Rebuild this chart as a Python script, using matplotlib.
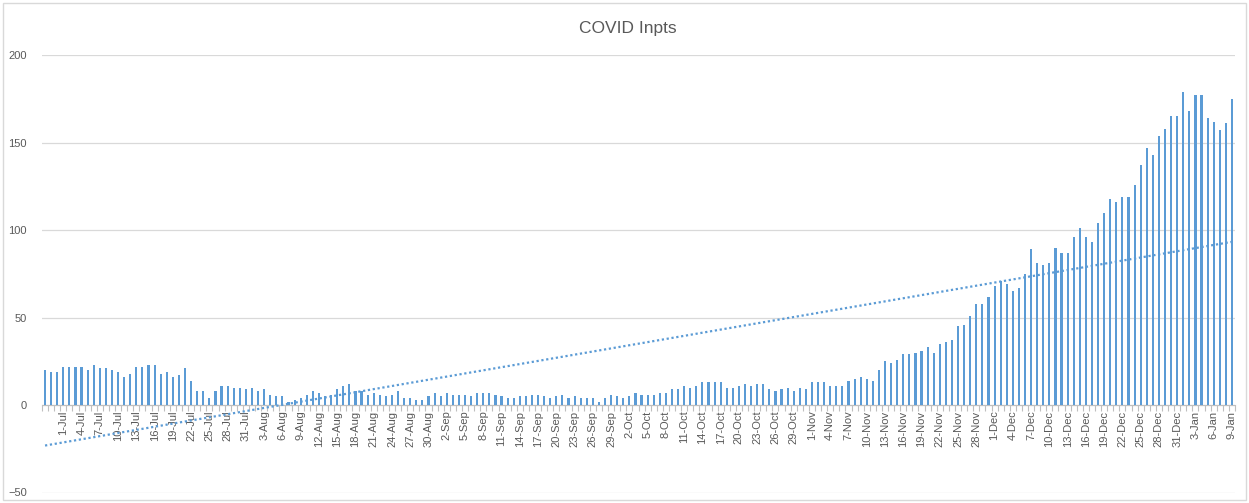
import numpy as np
import pandas as pd
import matplotlib
matplotlib.use("Agg")
import matplotlib.pyplot as plt
from matplotlib.patches import Rectangle

# daily COVID inpatients, 28-Jun to 9-Jan
dates = pd.date_range("2020-06-28", "2021-01-09", freq="D")
inpts = [20, 19, 19, 22, 22, 22, 22, 20, 23, 21, 21, 20, 19, 16, 18, 22, 22, 23, 23, 18,
         19, 16, 17, 21, 14, 8, 8, 4, 8,
         11, 11, 10, 10, 9, 10, 8, 9, 6, 5, 5, 2, 3, 4, 6, 8, 7, 5, 6, 9, 11, 12, 8, 8, 6,
         7, 6, 5, 6, 8, 4, 4, 3,
         3, 5, 7, 5, 7, 6, 6, 6, 5, 7, 7, 7, 6, 5, 4, 4, 5, 5, 6, 6, 5, 4, 5, 6, 4, 5, 4,
         4, 4, 2, 4, 6, 5,
         4, 5, 7, 6, 6, 6, 7, 7, 9, 9, 11, 10, 11, 13, 13, 13, 13, 10, 10, 11, 12, 11, 12,
         12, 9, 8, 9, 10, 8, 10, 9, 13, 13,
         13, 11, 11, 11, 14, 15, 16, 15, 14, 20, 25, 24, 26, 29, 29, 30, 31, 33, 30, 35,
         36, 37, 45, 46, 51, 58, 58, 62, 68,
         71, 69, 65, 67, 75, 89, 81, 80, 81, 90, 87, 87, 96, 101, 96, 93, 104, 110, 118,
         116, 119, 119, 126, 137, 147, 143, 154, 158, 165, 165, 179, 168, 177, 177, 164,
         162, 157, 161, 175]
labels = [f"{d.day}-{d.strftime('%b')}" for d in dates]

blue = "#5B9BD5"
grey_txt = "#595959"
grid_c = "#D9D9D9"

plt.rcParams["font.family"] = ["Liberation Sans", "DejaVu Sans"]

fig = plt.figure(figsize=(12.49, 5.03), dpi=100)
ax = fig.add_axes([42 / 1249, 1 - 492.5 / 503, 1193 / 1249, 437.5 / 503])

x = np.arange(len(inpts))
ax.bar(x, inpts, width=0.35, color=blue, zorder=3)

# linear trendline (dotted)
k, c = np.polyfit(x, inpts, 1)
ax.plot(x, k * x + c, color=blue, linestyle=(0, (1, 1.2)), linewidth=1.6, zorder=4)

ax.set_xlim(-0.5, len(inpts) - 0.5)
ax.set_ylim(-50, 200)
ax.set_yticks(range(-50, 201, 50))
ax.yaxis.grid(True, color=grid_c, linewidth=0.9, zorder=0)
ax.set_axisbelow(True)

for s in ["left", "right", "top"]:
    ax.spines[s].set_visible(False)
ax.spines["bottom"].set_position(("data", 0))
ax.spines["bottom"].set_color("#BFBFBF")
ax.spines["bottom"].set_zorder(2)

ax.set_xticks(x[3::3])
ax.set_xticklabels(labels[3::3], rotation=90, fontsize=8, color=grey_txt)
ax.set_xticks(np.arange(-0.5, len(inpts), 1), minor=True)
ax.tick_params(axis="x", which="major", length=0, pad=4)
ax.tick_params(axis="x", which="minor", length=4, color="#BFBFBF", width=0.8)
ax.tick_params(axis="y", length=0, labelsize=8, labelcolor=grey_txt, pad=11)

fig.text(628 / 1249, 1 - 28 / 503, "COVID Inpts", ha="center", va="center",
         fontsize=12.5, color=grey_txt)

fig.patches.append(Rectangle((3 / 1249, 3 / 503), 1243 / 1249, 497 / 503,
                             transform=fig.transFigure, fill=False,
                             edgecolor=grid_c, linewidth=1))

fig.savefig("out.png", dpi=100)
